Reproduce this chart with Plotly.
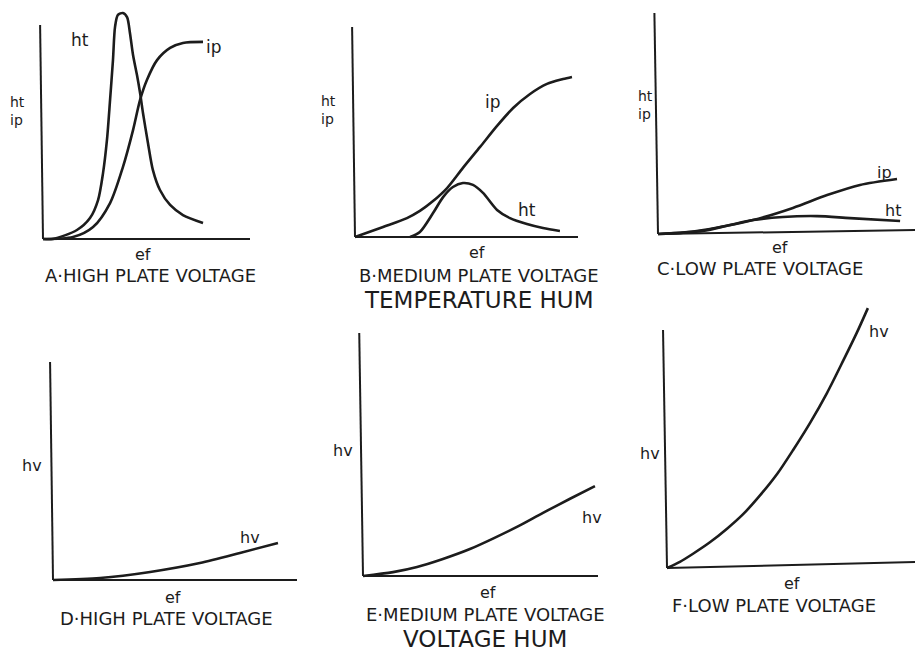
import plotly.graph_objects as go

W, H = 915, 661
INK = '#1c1c1c'
FONT = 'DejaVu Sans, Liberation Sans, sans-serif'

# ---- curve data: ef runs 0..10 along each x axis, response 0..10 up each y axis ----
# A - high plate voltage (temperature hum)
a_ip_ef = [0, 1.45, 2.42, 3.24, 3.86, 4.35, 4.69, 5.02, 5.51, 6.14, 6.76, 7.73]
a_ip = [0, 0.09, 0.56, 1.68, 3.36, 5.09, 6.50, 7.43, 8.36, 8.93, 9.16, 9.21]
a_ht_ef = [0, 0.48, 1.64, 2.27, 2.66, 2.90, 3.09, 3.24, 3.38, 3.48, 3.62, 3.86, 4.06,
           4.20, 4.35, 4.54, 4.69, 4.83, 5.07, 5.31, 5.65, 6.14, 6.76, 7.73]
a_ht = [0, 0, 0.42, 0.98, 1.82, 3.08, 4.63, 6.50, 8.36, 9.91, 10.47, 10.56, 10.37,
        9.63, 8.60, 7.66, 6.82, 5.89, 4.49, 3.22, 2.29, 1.59, 1.12, 0.75]

# B - medium plate voltage
b_ip_ef = [0, 1.26, 2.33, 2.91, 3.50, 4.13, 4.84, 5.61, 6.37, 7.09, 7.85, 8.61, 9.33, 9.73]
b_ip = [0, 0.48, 0.90, 1.24, 1.71, 2.33, 3.29, 4.29, 5.29, 6.14, 6.81, 7.29, 7.52, 7.62]
b_ht_ef = [2.47, 2.91, 3.50, 3.95, 4.39, 4.84, 5.29, 5.74, 6.37, 6.95, 7.71, 8.43, 9.19]
b_ht = [0, 0.24, 1.14, 1.90, 2.38, 2.57, 2.48, 2.10, 1.29, 0.90, 0.62, 0.43, 0.29]

# C - low plate voltage
c_ip_ef = [0, 0.86, 2.02, 3.70, 5.25, 6.58, 7.86, 9.30]
c_ip = [0, 0.05, 0.23, 0.63, 1.18, 1.76, 2.22, 2.49]
c_ht_ef = [0, 1.75, 2.80, 3.70, 4.86, 6.19, 7.47, 9.42]
c_ht = [0, 0.14, 0.41, 0.63, 0.77, 0.81, 0.72, 0.59]

# D, E, F - voltage hum
d_hv_ef = [0, 1.93, 3.98, 6.02, 7.66, 9.22]
d_hv = [0, 0.09, 0.37, 0.78, 1.24, 1.70]
e_hv_ef = [0, 1.28, 2.30, 3.40, 4.55, 5.53, 6.55, 7.66, 8.81, 9.87]
e_hv = [0, 0.16, 0.37, 0.70, 1.11, 1.54, 2.02, 2.60, 3.18, 3.70]
f_hv_ef = [0, 0.52, 1.05, 1.73, 2.42, 3.06, 3.75, 4.44, 5.08, 5.77, 6.45, 7.10, 7.66, 8.10]
f_hv = [0, 0.26, 0.60, 1.08, 1.65, 2.25, 3.05, 3.95, 4.95, 6.10, 7.35, 8.70, 9.90, 10.92]

titles = ['A·HIGH PLATE VOLTAGE', 'B·MEDIUM PLATE VOLTAGE', 'C·LOW PLATE VOLTAGE',
          'D·HIGH PLATE VOLTAGE', 'E·MEDIUM PLATE VOLTAGE', 'F·LOW PLATE VOLTAGE']
group_titles = ['TEMPERATURE HUM', 'VOLTAGE HUM']

# panel geometry in pixels: origin x, origin y, x-axis length, y-axis length,
# plus the slight lean of the hand-drawn axes (in data units)
panels = [
    dict(ox=43, oy=239, lx=207, ly=214, lean_y=-0.14, lean_x=0.0),
    dict(ox=355, oy=237, lx=223, ly=210, lean_y=-0.13, lean_x=0.0),
    dict(ox=658, oy=234, lx=257, ly=221, lean_y=-0.14, lean_x=0.18),
    dict(ox=53, oy=580, lx=244, ly=218, lean_y=-0.12, lean_x=0.0),
    dict(ox=363, oy=576, lx=235, ly=243, lean_y=-0.16, lean_x=0.0),
    dict(ox=667, oy=568, lx=248, ly=238, lean_y=-0.16, lean_x=0.25),
]

fig = go.Figure()
shapes = []
layout = {}


def axis_key(i, ax):
    return f'{ax}axis' if i == 1 else f'{ax}axis{i}'


def ref(i, ax):
    return ax if i == 1 else f'{ax}{i}'


for i, p in enumerate(panels, start=1):
    ox, oy, lx, ly = p['ox'], p['oy'], p['lx'], p['ly']
    x0 = max(0, ox - 1.2 * lx / 10)
    x1 = min(W, ox + 10.6 * lx / 10)
    ytop = max(0, oy - 11.3 * ly / 10)
    ybot = min(H, oy + 0.8 * ly / 10)
    layout[axis_key(i, 'x')] = dict(
        domain=[x0 / W, x1 / W], range=[(x0 - ox) / lx * 10, (x1 - ox) / lx * 10],
        visible=False, fixedrange=True, anchor=ref(i, 'y'))
    layout[axis_key(i, 'y')] = dict(
        domain=[1 - ybot / H, 1 - ytop / H], range=[(oy - ybot) / ly * 10, (oy - ytop) / ly * 10],
        visible=False, fixedrange=True, anchor=ref(i, 'x'))
    # hand-drawn axes
    shapes.append(dict(type='line', xref=ref(i, 'x'), yref=ref(i, 'y'),
                       x0=0, y0=0, x1=10, y1=p['lean_x'], line=dict(color=INK, width=2)))
    shapes.append(dict(type='line', xref=ref(i, 'x'), yref=ref(i, 'y'),
                       x0=0, y0=0, x1=p['lean_y'], y1=10, line=dict(color=INK, width=2)))

curves = [
    (1, a_ip_ef, a_ip), (1, a_ht_ef, a_ht),
    (2, b_ip_ef, b_ip), (2, b_ht_ef, b_ht),
    (3, c_ip_ef, c_ip), (3, c_ht_ef, c_ht),
    (4, d_hv_ef, d_hv), (5, e_hv_ef, e_hv), (6, f_hv_ef, f_hv),
]
for i, xs, ys in curves:
    fig.add_trace(go.Scatter(
        x=xs, y=ys, mode='lines', xaxis=ref(i, 'x'), yaxis=ref(i, 'y'),
        line=dict(color=INK, width=2.6, shape='spline', smoothing=0.8),
        hoverinfo='skip', showlegend=False))

annotations = []


def label(text, px, py, size=16):
    annotations.append(dict(text=text, x=px / W, y=1 - py / H, xref='paper', yref='paper',
                            xanchor='center', yanchor='middle', showarrow=False,
                            font=dict(family=FONT, size=size, color=INK)))


# axis names
for px, py in [(17, 102), (328, 101), (645, 96)]:
    label('ht', px, py, 14)
    label('ip', px - 1, py + 18, 14)
for px, py in [(32, 465), (343, 450), (650, 453)]:
    label('hv', px, py, 16)
for px, py in [(143, 254), (477, 253), (780, 247), (173, 597), (488, 592), (792, 583)]:
    label('ef', px, py, 16)

# curve names
label('ht', 80, 40, 17)
label('ip', 214, 47, 17)
label('ip', 493, 102, 17)
label('ht', 527, 210, 17)
label('ip', 884, 172, 16)
label('ht', 893, 210, 16)
label('hv', 250, 537, 16)
label('hv', 592, 517, 16)
label('hv', 879, 331, 16)

# panel captions
for t, (px, py) in zip(titles, [(150, 275), (479, 275), (760, 268),
                                 (166, 618), (485, 614), (774, 605)]):
    label(t, px, py, 18)
label(group_titles[0], 479, 300, 23)
label(group_titles[1], 485, 639, 23)

fig.update_layout(
    width=W, height=H, autosize=False,
    margin=dict(l=0, r=0, t=0, b=0),
    paper_bgcolor='white', plot_bgcolor='rgba(0,0,0,0)',
    shapes=shapes, annotations=annotations,
    **layout,
)

fig.write_html('out.html', config={'displayModeBar': False},
               post_script="document.body.style.margin='0';")
